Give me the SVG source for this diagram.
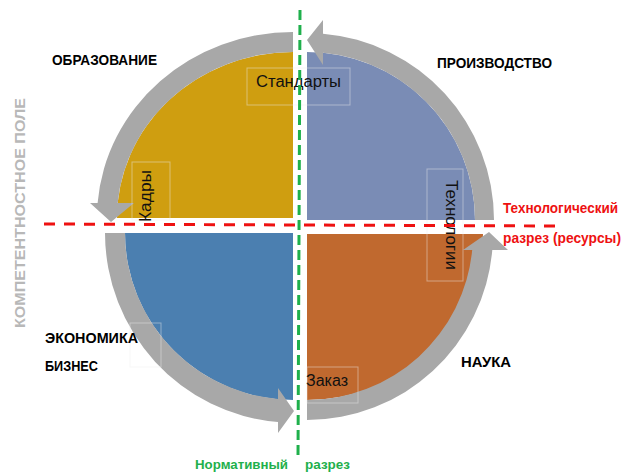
<svg xmlns="http://www.w3.org/2000/svg" width="624" height="472" viewBox="0 0 624 472">
<style>
.lbl{font-family:"Liberation Sans",Arial,sans-serif;font-weight:bold;font-size:14px;fill:#000}
.in{font-family:"Liberation Sans",Arial,sans-serif;font-size:16px;fill:#111}
.red{font-family:"Liberation Sans",Arial,sans-serif;font-weight:bold;font-size:14px;fill:#ee1111}
.grn{font-family:"Liberation Sans",Arial,sans-serif;font-weight:bold;font-size:13px;fill:#1fb04c}
.arc{fill:#a8a8a8}
.box{fill:none;stroke:#eeeeee;stroke-opacity:0.45;stroke-width:1}
</style>
<rect width="624" height="472" fill="#fff"/>
<g id="quad-education">
<path d="M293,218 L293,52 A176,166 0 0 0 117,218 Z" fill="#cf9e10"/>
</g>
<g id="quad-production">
<path d="M307,220 L307,52 A168,168 0 0 1 475,220 Z" fill="#7a8cb5"/>
</g>
<g id="quad-economy">
<path d="M293,233 L125,233 A168,167 0 0 0 293,400 Z" fill="#4b7fb0"/>
</g>
<g id="quad-science">
<path d="M307,234 L483,234 A176,166 0 0 1 307,400 Z" fill="#c0692f"/>
</g>
<g id="connectors">
<path class="arc" d="M293,32 A196,186 0 0 0 97.6,203 L90,203 L111,222 L134,203 L117.7,203 A176,166 0 0 1 293,52 Z"/>
<path class="arc" d="M494,220 A187,187 0 0 0 323,33.7 L323,20 L307,40 L323,65 L323,52.8 A168,168 0 0 1 475,220 Z"/>
<path class="arc" d="M105,233 A188,190 0 0 0 278,422 L278,433 L294,411 L278,388 L278,399 A168,167 0 0 1 125,233 Z"/>
<path class="arc" d="M307,420 A186,186 0 0 0 492.3,250 L508,250 L489,232 L463,250 L472.2,250 A166,166 0 0 1 307,400 Z"/>
</g>
<g id="textboxes">
<rect class="box" x="247" y="68" width="103" height="37"/>
<rect class="box" x="132" y="162" width="38" height="58"/>
<rect class="box" x="427" y="169" width="36" height="112"/>
<rect class="box" x="307" y="367" width="51" height="36"/>
<rect class="box" x="130" y="323" width="31" height="44"/>
</g>
<g id="label-education"><text class="lbl" x="52" y="65" textLength="105" lengthAdjust="spacingAndGlyphs">ОБРАЗОВАНИЕ</text></g>
<g id="label-production"><text class="lbl" x="437" y="68" textLength="115" lengthAdjust="spacingAndGlyphs">ПРОИЗВОДСТВО</text></g>
<g id="label-economy"><text class="lbl" x="45" y="343" textLength="93" lengthAdjust="spacingAndGlyphs">ЭКОНОМИКА</text><text class="lbl" x="45" y="371" textLength="53" lengthAdjust="spacingAndGlyphs">БИЗНЕС</text></g>
<g id="label-science"><text class="lbl" x="461" y="367" textLength="50" lengthAdjust="spacingAndGlyphs">НАУКА</text></g>
<g id="label-standards"><text class="in" x="256" y="87" textLength="85" lengthAdjust="spacingAndGlyphs">Стандарты</text></g>
<g id="label-kadry"><text class="in" transform="translate(151,222) rotate(-90)" textLength="52" lengthAdjust="spacingAndGlyphs">Кадры</text></g>
<g id="label-tech"><text class="in" transform="translate(445.5,180) rotate(90)" textLength="90" lengthAdjust="spacingAndGlyphs">Технологии</text></g>
<g id="label-zakaz"><text class="in" x="306" y="386" textLength="42" lengthAdjust="spacingAndGlyphs">Заказ</text></g>
<g id="label-compet"><text transform="translate(25,328) rotate(-90)" font-family="Liberation Sans, Arial, sans-serif" font-weight="bold" font-size="15" fill="#b8b8b8" textLength="230" lengthAdjust="spacingAndGlyphs">КОМПЕТЕНТНОСТНОЕ  ПОЛЕ</text></g>
<g id="cut-lines">
<line x1="44" y1="224" x2="556" y2="226" stroke="#ee1111" stroke-width="3" stroke-dasharray="11 9"/>
<line x1="300" y1="10" x2="298" y2="458" stroke="#1fb04c" stroke-width="3" stroke-dasharray="10 5"/>
</g>
<g id="label-tech-cut">
<text class="red" x="503" y="213" textLength="115" lengthAdjust="spacingAndGlyphs">Технологический</text>
<text class="red" x="503" y="243" textLength="118" lengthAdjust="spacingAndGlyphs">разрез (ресурсы)</text>
</g>
<g id="label-norm-cut">
<text class="grn" y="469"><tspan x="195" textLength="93" lengthAdjust="spacingAndGlyphs">Нормативный</tspan><tspan x="305" textLength="45" lengthAdjust="spacingAndGlyphs">разрез</tspan></text>
</g>
</svg>
